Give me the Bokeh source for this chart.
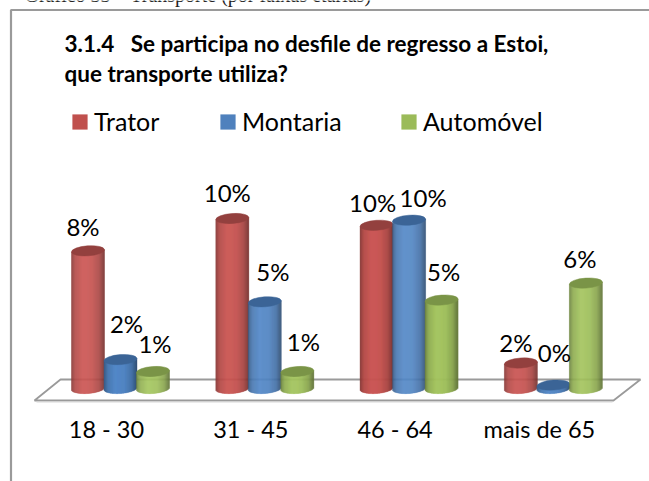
import numpy as np
from bokeh.plotting import figure
from bokeh.models import ColumnDataSource, FixedTicker, Legend, LegendItem, LinearAxis
from bokeh.core.properties import value
from bokeh.embed import file_html
from bokeh.resources import INLINE

# ---- data ----
categories = ["18 - 30", "31 - 45", "46 - 64", "mais de 65"]
trator = [8.1, 10.0, 9.6, 1.5]
montaria = [1.7, 5.1, 9.9, 0.2]
automovel = [1.0, 1.0, 5.2, 6.2]
trator_labels = ["8%", "10%", "10%", "2%"]
montaria_labels = ["2%", "5%", "10%", "0%"]
automovel_labels = ["1%", "1%", "5%", "6%"]
title_lines = ["3.1.4\u00a0\u00a0\u00a0Se participa no desfile de regresso a Estoi,", "que transporte utiliza?"]
caption = "Gráfico 33 – Transporte (por faixas etárias)"

# ---- layout (pixel geometry of the picture) ----
W, H = 649, 481
X0, XS = 106.0, 144.3   # px of first category label, px per category
Y0, YS = 388.0, 17.0    # px of bar base, px per percent
BAR_SHIFT = 14.0 / XS
GAP = 32.5 / XS
BAR_W = 33
def dx(px): return (px - X0) / XS
def dy(py): return (Y0 - py) / YS

p = figure(width=W, height=H, output_backend="svg", toolbar_location=None,
           x_range=(dx(0), dx(W)), y_range=(dy(H), dy(0)),
           min_border=0, min_border_left=0, min_border_right=0, min_border_top=0, min_border_bottom=0,
           x_axis_location=None, y_axis_location=None, outline_line_color=None,
           background_fill_color="white", border_fill_color="white")
p.margin = (0, 0, 0, 0)
p.grid.visible = False

GRAY = "#9a9a9a"
# chart frame (open at right and bottom)
p.line([dx(10.5), dx(10.5), dx(W)], [dy(H), dy(9.5), dy(9.5)], line_color=GRAY, line_width=2.2)

# floor
p.patch([dx(34), dx(60), dx(640), dx(613), dx(34)],
        [dy(400), dy(379), dy(379), dy(400), dy(400)],
        fill_color="white", line_color=GRAY, line_width=1.8)
p.line([dx(36), dx(612)], [dy(401.5), dy(401.5)], line_color="#d8d8d8", line_width=1)

# cylinders
profile_u = [-1.0, -0.75, -0.3, 0.25, 0.7, 1.0]
profile_k = [0.70, 0.94, 1.06, 1.03, 0.88, 0.62]
def shade(rgb, k):
    return "#%02x%02x%02x" % tuple(int(min(255, c * k)) for c in rgb)

series = [
    (trator, (192, 80, 77), "#93403e", "Trator"),
    (montaria, (79, 129, 189), "#3b6496", "Montaria"),
    (automovel, (155, 187, 89), "#7a9447", "Automóvel"),
]
B = 5.0   # half height of ellipse, px
TILT = 0.07
proxies = []
for s, (vals, rgb, top, name) in enumerate(series):
    cx = np.arange(4) + BAR_SHIFT + (s - 1) * GAP
    us = (np.arange(BAR_W) + 0.5) / BAR_W * 2 - 1
    L, R, Bt, Tp, C = [], [], [], [], []
    for c, v in zip(cx, vals):
        for i, u in enumerate(us):
            L.append(c + (u - 1 / BAR_W) * BAR_W / 2 / XS)
            R.append(c + (u + 1 / BAR_W) * BAR_W / 2 / XS)
            off = TILT * u * BAR_W / 2 / YS
            Bt.append(off - B * np.sqrt(max(0, 1 - u * u)) / YS)
            Tp.append(v + off)
            C.append(shade(rgb, np.interp(u, profile_u, profile_k)))
    p.quad(left=L, right=R, bottom=Bt, top=Tp, fill_color=C, line_color=C, line_width=0.4)
    p.ellipse(x=cx, y=vals, width=BAR_W, height=2 * B, width_units="screen", height_units="screen",
              angle=TILT, fill_color=top, line_color=top, line_width=0.5)
    proxies.append(p.quad(left=[np.nan], right=[np.nan], bottom=[np.nan], top=[np.nan],
                          fill_color=shade(rgb, 1), line_color=None))

# value labels
label_sets = [trator_labels, montaria_labels, automovel_labels]
off_x = [[-5, -5, -4, -5], [6, 8, 14, 1], [2, 6, 2, -6]]
off_y = [[-24, -26, -23, -21], [-36, -30, -23, -33], [-28, -30, -29, -25]]
for s, (vals, rgb, top, name) in enumerate(series):
    cx = np.arange(4) + BAR_SHIFT + (s - 1) * GAP
    src = ColumnDataSource(dict(x=cx, y=vals, t=label_sets[s], xo=off_x[s], yo=off_y[s]))
    p.text(x="x", y="y", text="t", source=src, x_offset="xo", y_offset="yo",
           text_font=value("Lato"), text_font_size="24px", text_color="black",
           text_align="center", text_baseline="middle")

# title, caption
p.text(x=[dx(64), dx(64)], y=[dy(42.5), dy(72.5)], text=title_lines, text_font=value("Lato"),
       text_font_size="22.5px", text_font_style="bold", text_color="black",
       text_align="left", text_baseline="middle")
p.text(x=[dx(24)], y=[dy(-6)], text=[caption], text_font=value("Liberation Serif"),
       text_font_size="20px", text_color="#222222", text_align="left", text_baseline="alphabetic")

# category axis inside frame
ax = LinearAxis(ticker=FixedTicker(ticks=[0, 1, 2, 3]),
                major_label_overrides={i: c for i, c in enumerate(categories)},
                fixed_location=dy(402), axis_line_color=None,
                major_tick_line_color=None, minor_tick_line_color=None,
                major_label_text_font="Lato", major_label_text_font_size="23.5px",
                major_label_text_color="black", major_label_standoff=6)
p.add_layout(ax, "below")

# legends, one per entry, at their own positions
for (x_px, rend, (_, _, _, name)) in zip([70, 218, 399], proxies, series):
    lg = Legend(items=[LegendItem(label=name, renderers=[rend])],
                location=(x_px, H - 136), border_line_color=None, background_fill_alpha=0,
                glyph_width=19, glyph_height=19, label_text_font="Lato",
                label_text_font_size="25px", label_text_color="black",
                margin=0, padding=0, label_standoff=5)
    p.add_layout(lg, "center")

open("out.html", "w").write(file_html(p, INLINE))
